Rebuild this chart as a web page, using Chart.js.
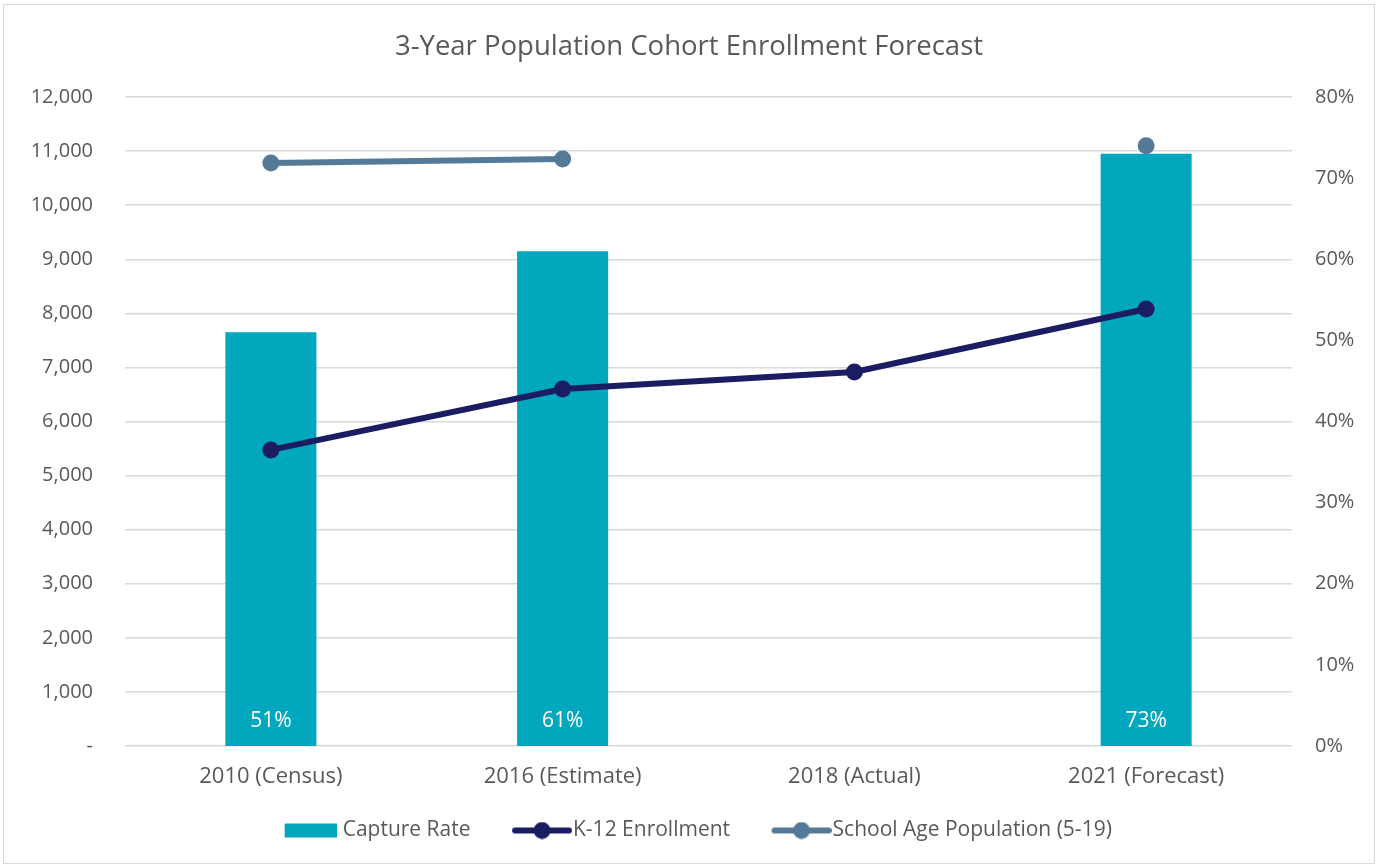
<!DOCTYPE html>
<html>
<head>
<meta charset="utf-8">
<script src="https://cdn.jsdelivr.net/npm/chart.js@4"></script>
<style>
  body { margin: 0; background: #fff; overflow: hidden; }
  #wrap { position: absolute; left: 3px; top: 4px; width: 1370px; height: 858px; border: 1px solid #d9d9d9; }
</style>
</head>
<body>
<div id="wrap"><canvas id="chart"></canvas></div>
<script>
const categories = ["2010 (Census)", "2016 (Estimate)", "2018 (Actual)", "2021 (Forecast)"];
const captureRate = [0.51, 0.61, null, 0.73];
const k12Enrollment = [5475, 6600, 6915, 8080];
const schoolAgePop = [10780, 10855, null, 11100];

const barColor = "#00a7bd";
const k12Color = "#1b1d63";
const popColor = "#557a98";
const textColor = "#595959";
const font = "'Open Sans', sans-serif";

// legend markers sit at the right end of a transparent image so the
// marker hugs its text like in the original
const markerBox = 66;
function markerCanvas(gap) {
  const c = document.createElement("canvas");
  c.width = Math.round(markerBox + 2 * (10.5 - gap));
  c.height = 18;
  return c;
}
function boxMarker(color) {
  const c = markerCanvas(6);
  const g = c.getContext("2d");
  g.fillStyle = color;
  g.fillRect(c.width - 52, 2, 52, 14);
  return c;
}
function lineMarker(color) {
  const c = markerCanvas(1);
  const g = c.getContext("2d");
  const x0 = c.width - 60;
  g.strokeStyle = color;
  g.lineWidth = 6;
  g.lineCap = "round";
  g.beginPath(); g.moveTo(x0 + 3, 9); g.lineTo(c.width - 3, 9); g.stroke();
  g.fillStyle = color;
  g.beginPath(); g.arc(x0 + 30, 9, 8.5, 0, Math.PI * 2); g.fill();
  return c;
}

const barLabels = {
  id: "barLabels",
  afterDatasetsDraw(chart) {
    const meta = chart.getDatasetMeta(0);
    const ctx = chart.ctx;
    ctx.save();
    ctx.fillStyle = "#ffffff";
    ctx.font = "21px " + font;
    ctx.textAlign = "center";
    ctx.textBaseline = "middle";
    meta.data.forEach((bar, i) => {
      const v = captureRate[i];
      if (v == null) return;
      ctx.fillText(Math.round(v * 100) + "%", bar.x, bar.base - 25);
    });
    ctx.restore();
  }
};

new Chart(document.getElementById("chart"), {
  data: {
    labels: categories,
    datasets: [
      {
        type: "bar",
        label: "Capture Rate",
        data: captureRate,
        yAxisID: "y1",
        backgroundColor: barColor,
        categoryPercentage: 1,
        barPercentage: 0.312,
        order: 3
      },
      {
        type: "line",
        label: "K-12 Enrollment",
        data: k12Enrollment,
        yAxisID: "y",
        borderColor: k12Color,
        backgroundColor: k12Color,
        borderWidth: 6,
        pointRadius: 8.5,
        pointHoverRadius: 8.5,
        pointBorderWidth: 0,
        order: 1
      },
      {
        type: "line",
        label: "School Age Population (5-19)",
        data: schoolAgePop,
        yAxisID: "y",
        borderColor: popColor,
        backgroundColor: popColor,
        borderWidth: 6,
        pointRadius: 8.5,
        pointHoverRadius: 8.5,
        pointBorderWidth: 0,
        spanGaps: false,
        order: 2
      }
    ]
  },
  options: {
    responsive: true,
    maintainAspectRatio: false,
    animation: false,
    layout: { padding: { top: 0, bottom: 12, left: 0, right: 0 } },
    plugins: {
      title: {
        display: true,
        text: "3-Year Population Cohort Enrollment Forecast",
        color: textColor,
        font: { family: font, size: 27.5, weight: "normal" },
        padding: { top: 25.5, bottom: 33.5 }
      },
      legend: {
        position: "bottom",
        labels: {
          color: textColor,
          font: { family: font, size: 21 },
          usePointStyle: true,
          pointStyleWidth: markerBox,
          padding: 26,
          generateLabels(chart) {
            const markers = [boxMarker(barColor), lineMarker(k12Color), lineMarker(popColor)];
            return chart.data.datasets.map((ds, i) => ({
              text: ds.label,
              datasetIndex: i,
              pointStyle: markers[i],
              fontColor: textColor,
              hidden: false,
              lineWidth: 0
            }));
          }
        }
      },
      tooltip: { enabled: false }
    },
    scales: {
      x: {
        grid: { display: false, drawTicks: false },
        border: { display: false },
        afterFit(scale) { scale.height = 48; },
        ticks: { color: textColor, font: { family: font, size: 22 }, padding: 18 }
      },
      y: {
        position: "left",
        min: 0,
        max: 12000,
        grid: { color: "#d9d9d9", lineWidth: 1.5, drawTicks: false },
        border: { display: false },
        afterFit(scale) { scale.width = 121; },
        ticks: {
          stepSize: 1000,
          color: textColor,
          font: { family: font, size: 20 },
          padding: 32,
          callback: v => v === 0 ? "-" : v.toLocaleString("en-US")
        }
      },
      y1: {
        position: "right",
        min: 0,
        max: 0.8,
        grid: { display: false, drawTicks: false },
        border: { display: false },
        afterFit(scale) { scale.width = 82; },
        ticks: {
          stepSize: 0.1,
          color: textColor,
          font: { family: font, size: 20 },
          padding: 23,
          callback: v => Math.round(v * 100) + "%"
        }
      }
    }
  },
  plugins: [barLabels]
});
</script>
</body>
</html>
